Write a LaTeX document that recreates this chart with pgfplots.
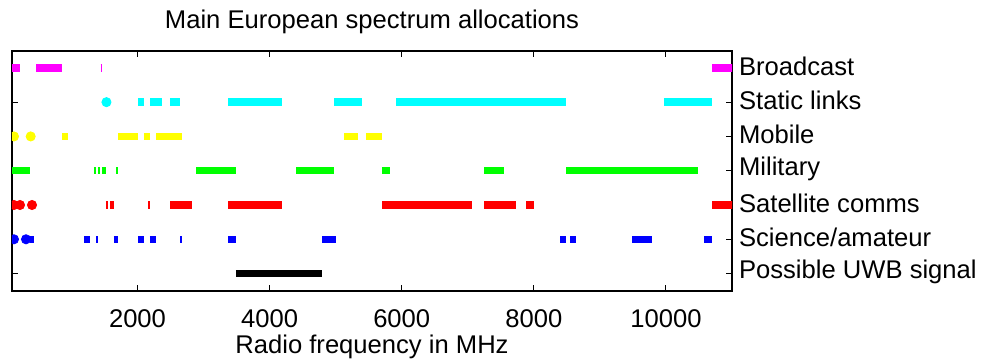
\documentclass[border=0pt]{standalone}
\usepackage{fontspec}
\setmainfont{Liberation Sans}
\usepackage{pgfplots}
\pgfplotsset{compat=1.18}
\definecolor{mMag}{rgb}{1,0,1}
\definecolor{mCyan}{rgb}{0,1,1}
\definecolor{mYel}{rgb}{1,1,0}
\definecolor{mGrn}{rgb}{0,1,0}
\definecolor{mRed}{rgb}{1,0,0}
\definecolor{mBlu}{rgb}{0,0,1}
\begin{document}
\begin{tikzpicture}
\begin{axis}[
  name=ax, at={(0,0)}, anchor=south west,
  scale only axis, width=360pt, height=120pt,
  xmin=100, xmax=11000, ymin=0.5, ymax=7.5,
  font=\fontsize{12.8}{15}\selectfont,
  /pgf/number format/assume math mode=true,
  /pgf/number format/1000 sep={},
  scaled x ticks=false,
  xtick={2000,4000,6000,8000,10000},
  ytick={1,2,3,4,5,6,7},
  yticklabels={Possible UWB signal,Science/amateur,Satellite comms,Military,Mobile,Static links,Broadcast},
  yticklabel pos=right,
  yticklabel style={anchor=west, xshift=0pt, yshift=1pt},
  xticklabel style={anchor=base, yshift=-18.5pt},
  tick align=inside,
  major tick length=3pt,
  tick style={black, line width=0.5pt},
  axis line style={black, line width=0.8pt},
  title={Main European spectrum allocations},
  title style={at={(axis description cs:0.5,1)}, anchor=base, yshift=5.3pt},
  xlabel={Radio frequency in MHz},
  xlabel style={at={(axis description cs:0.5,0)}, anchor=base, yshift=-31.5pt},
  unbounded coords=jump,
  clip marker paths=true,
]
% Broadcast
\addplot[mMag, line width=3.65pt, line cap=butt] coordinates {
 (100,7) (225,7) (nan,7) (470,7) (862,7) (nan,7) (1440,7) (1465,7) (nan,7) (10700,7) (11100,7)};
% Static links
\addplot[mCyan, line width=3.65pt, line cap=butt] coordinates {
 (2010,6) (2100,6) (nan,6) (2190,6) (2370,6) (nan,6) (2490,6) (2645,6) (nan,6) (3370,6) (4190,6) (nan,6)
 (4975,6) (5400,6) (nan,6) (5915,6) (8490,6) (nan,6) (9970,6) (10700,6)};
\addplot[mCyan, only marks, mark=*, mark size=2.3pt] coordinates {(1530,6)};
% Mobile
\addplot[mYel, line width=3.65pt, line cap=butt] coordinates {
 (857,5) (948,5) (nan,5) (1705,5) (2008,5) (nan,5) (2098,5) (2189,5) (nan,5) (2280,5) (2674,5) (nan,5)
 (5126,5) (5338,5) (nan,5) (5459,5) (5702,5)};
\addplot[mYel, only marks, mark=*, mark size=2.3pt] coordinates {(130,5) (383,5)};
% Military
\addplot[mGrn, line width=3.65pt, line cap=butt] coordinates {
 (100,4) (373,4) (nan,4) (1341,4) (1372,4) (nan,4) (1402,4) (1432,4) (nan,4) (1463,4) (1523,4) (nan,4)
 (1675,4) (1705,4) (nan,4) (2886,4) (3491,4) (nan,4) (4400,4) (4975,4) (nan,4) (5702,4) (5823,4) (nan,4)
 (7246,4) (7549,4) (nan,4) (8488,4) (10486,4)};
% Satellite comms
\addplot[mRed, line width=3.65pt, line cap=butt] coordinates {
 (1523,3) (1553,3) (nan,3) (1584,3) (1644,3) (nan,3) (2159,3) (2189,3) (nan,3) (2492,3) (2825,3) (nan,3)
 (3370,3) (4188,3) (nan,3) (5702,3) (7064,3) (nan,3) (7246,3) (7731,3) (nan,3) (7882,3) (8003,3) (nan,3)
 (10700,3) (11100,3)};
\addplot[mRed, only marks, mark=*, mark size=2.3pt] coordinates {(130,3) (221,3) (403,3)};
% Science/amateur
\addplot[mBlu, line width=3.65pt, line cap=butt] coordinates {
 (373,2) (433,2) (nan,2) (1190,2) (1281,2) (nan,2) (1372,2) (1402,2) (nan,2) (1644,2) (1705,2) (nan,2)
 (2008,2) (2098,2) (nan,2) (2189,2) (2280,2) (nan,2) (2644,2) (2674,2) (nan,2) (3370,2) (3491,2) (nan,2)
 (4793,2) (5005,2) (nan,2) (8397,2) (8488,2) (nan,2) (8548,2) (8639,2) (nan,2) (9487,2) (9790,2) (nan,2)
 (10577,2) (10698,2)};
\addplot[mBlu, only marks, mark=*, mark size=2.3pt] coordinates {(130,2) (312,2)};
% UWB
\addplot[black, line width=3.65pt, line cap=butt] coordinates {(3491,1) (4793,1)};
\end{axis}
\pgfresetboundingbox
\path[use as bounding box] (-6pt,-35.15pt) rectangle (488pt,145.35pt);
\end{tikzpicture}
\end{document}
